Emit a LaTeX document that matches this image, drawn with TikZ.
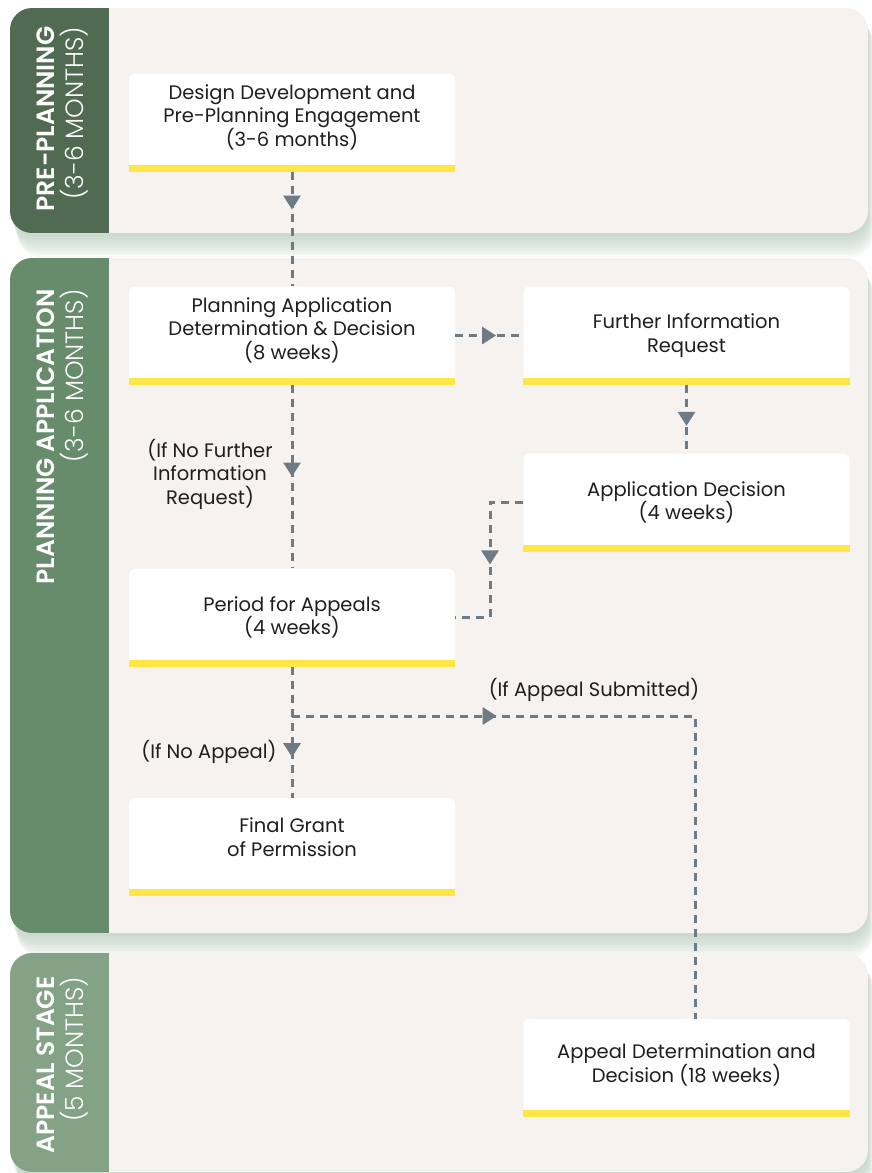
\documentclass[tikz,border=0pt]{standalone}
\usepackage{fontspec}
\setmainfont{Poppins}
\newfontfamily\thinfont{Poppins Light}
\newfontfamily\headfont{Poppins SemiBold}
\usetikzlibrary{arrows.meta,decorations.markings}

\definecolor{paneltone}{HTML}{F5F2EF}
\definecolor{bandone}{HTML}{506B51}
\definecolor{bandtwo}{HTML}{678C6C}
\definecolor{bandthree}{HTML}{84A386}
\definecolor{shadowgreen}{HTML}{9DB8A4}
\definecolor{barline}{HTML}{FFE545}
\definecolor{flowgray}{HTML}{6E7B85}
\definecolor{inktext}{HTML}{1F1F1F}

\tikzset{
  stepbox/.style={fill=white, rounded corners=6pt, minimum width=326pt, minimum height=98pt,
    inner sep=0pt, align=center, text=inktext, font=\fontsize{19.5}{23.5}\selectfont},
  flow/.style={draw=flowgray, line width=3pt, dash pattern=on 8pt off 6pt},
  midtip/.style={postaction={decorate}, decoration={markings,
    mark=at position #1 with {\arrow[flowgray]{Triangle[length=14pt,width=17pt]}}}},
  note/.style={align=center, text=inktext, inner sep=0pt, font=\fontsize{19.5}{23.5}\selectfont},
  bandtitle/.style={rotate=90, align=right, text=white, inner sep=0pt, font=\fontsize{25}{29}\selectfont},
}

\begin{document}
\begin{tikzpicture}[x=1pt, y=-1pt]
  \useasboundingbox (0,0) rectangle (872,1173);

  % soft shadows under the panels
  \foreach \top/\bot in {8/233, 258/933, 953/1172}
    \foreach \k in {1,...,8}
      \fill[shadowgreen, opacity=0.09, rounded corners=22pt] (10+\k, \top+4+\k) rectangle (868+0.6*\k, \bot+3*\k);

  % panels with their coloured bands
  \foreach \top/\bot/\tone in {8/233/bandone, 258/933/bandtwo, 953/1172/bandthree} {
    \fill[paneltone, rounded corners=22pt] (10,\top) rectangle (868,\bot);
    \begin{scope}
      \clip[rounded corners=22pt] (10,\top) rectangle (868,\bot);
      \fill[\tone] (10,\top) rectangle (109,\bot);
    \end{scope}
  }

  \node[bandtitle] (pretitle) at (62,119) {{\headfont PRE-PLANNING}\\{\thinfont (3-6 MONTHS)}};
  \node[bandtitle, anchor=east] (apptitle) at (62,289) {{\headfont PLANNING APPLICATION}\\{\thinfont (3-6 MONTHS)}};
  \node[bandtitle] (appealtitle) at (62,1065) {{\headfont APPEAL STAGE}\\{\thinfont (5 MONTHS)}};

  % steps
  \node[stepbox, text depth=14pt] (design) at (292,122.5) {Design Development and\\Pre-Planning Engagement\\(3-6 months)};
  \node[stepbox, text depth=14pt] (planning) at (292,335.5) {Planning Application\\Determination \& Decision\\(8 weeks)};
  \node[stepbox] (further) at (686.5,335.5) {Further Information\\Request};
  \node[stepbox] (decision) at (686.5,502.5) {Application Decision\\(4 weeks)};
  \node[stepbox] (period) at (292,617.5) {Period for Appeals\\(4 weeks)};
  \node[stepbox, text depth=20pt] (grant) at (292,847) {Final Grant\\of Permission};
  \node[stepbox, text depth=10pt] (appeal) at (686.5,1068) {Appeal Determination and\\Decision (18 weeks)};

  \foreach \b in {design,planning,further,decision,period,grant,appeal}
    \fill[barline] ([yshift=7pt]\b.south west) rectangle (\b.south east);

  % labels
  \node[note] (nofurther) at (210,474) {(If No Further\\Information\\Request)};
  \node[note] (noappeal) at (209,752) {(If No Appeal)};
  \node[note] (submitted) at (594,690) {(If Appeal Submitted)};

  % connectors
  \coordinate (dogleg) at (490,617);
  \coordinate (split) at (292,716);
  \coordinate (turn) at (695,716);

  \draw[flow, midtip=0.33] (design) -- (planning);
  \draw[flow, midtip=0.6] (planning) -- (further);
  \draw[flow, midtip=0.6] (further) -- (decision);
  \draw[flow, midtip=0.5] (planning) -- (period);
  \draw[flow, midtip=0.52] (decision.west) -| (period.east -| dogleg) -- (period.east);
  \draw[flow, midtip=0.69] (period) -- (grant);
  \draw[flow, midtip=0.29] (split) -- (turn) -- (appeal.north -| turn);
\end{tikzpicture}
\end{document}
